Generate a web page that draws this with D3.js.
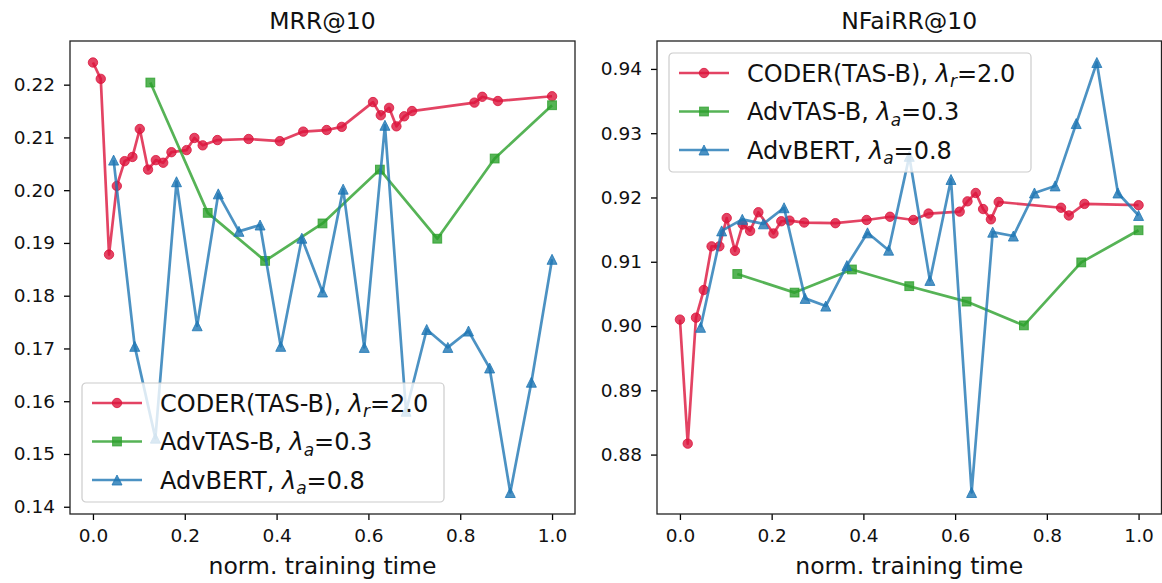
<!DOCTYPE html>
<html>
<head>
<meta charset="utf-8">
<script src="https://cdn.jsdelivr.net/npm/d3@7"></script>
<style>
  html, body { margin: 0; padding: 0; background: #fff; }
  svg { display: block; font-family: "DejaVu Sans", sans-serif; }
</style>
</head>
<body>
<svg id="chart" width="1162" height="583"></svg>
<script>
// Normalised training time at each evaluation checkpoint
const timeCoder = [0, 0.017, 0.035, 0.052, 0.069, 0.086, 0.102, 0.12, 0.137, 0.153,
  0.171, 0.204, 0.221, 0.239, 0.271, 0.339, 0.407, 0.458, 0.509, 0.542,
  0.61, 0.627, 0.645, 0.661, 0.678, 0.695, 0.831, 0.848, 0.882, 1.0];
const timeAdvTas = [0.125, 0.25, 0.375, 0.5, 0.625, 0.75, 0.875, 1.0];
const timeAdvBert = [0.045, 0.091, 0.136, 0.182, 0.227, 0.273, 0.318, 0.364, 0.409, 0.455,
  0.5, 0.545, 0.591, 0.636, 0.682, 0.727, 0.773, 0.818, 0.864, 0.909, 0.955, 1.0];

// MRR@10
const mrrCoder = [0.2242, 0.2211, 0.1878, 0.2008, 0.2055, 0.2063, 0.2116, 0.2039, 0.2057, 0.2052,
  0.2072, 0.2076, 0.2099, 0.2085, 0.2095, 0.2097, 0.2093, 0.2111, 0.2114, 0.2120,
  0.2167, 0.2142, 0.2156, 0.2121, 0.2140, 0.2150, 0.2166, 0.2177, 0.2169, 0.2178];
const mrrAdvTas = [0.2204, 0.1957, 0.1866, 0.1937, 0.2039, 0.1908, 0.2060, 0.2161];
const mrrAdvBert = [0.2057, 0.1704, 0.1530, 0.2016, 0.1743, 0.1993, 0.1922, 0.1934, 0.1704, 0.1909,
  0.1807, 0.2002, 0.1702, 0.2123, 0.1581, 0.1736, 0.1702, 0.1733, 0.1663, 0.1427, 0.1636, 0.1869];

// NFaiRR@10
const nfairrCoder = [0.9010, 0.8817, 0.9013, 0.9056, 0.9124, 0.9124, 0.9168, 0.9117, 0.9158, 0.9148,
  0.9177, 0.9144, 0.9163, 0.9164, 0.9161, 0.9160, 0.9165, 0.9170, 0.9165, 0.9175,
  0.9178, 0.9194, 0.9207, 0.9182, 0.9166, 0.9193, 0.9184, 0.9172, 0.9190, 0.9188];
const nfairrAdvTas = [0.9081, 0.9052, 0.9088, 0.9062, 0.9038, 0.9001, 0.9099, 0.9149];
const nfairrAdvBert = [0.8998, 0.9148, 0.9166, 0.9159, 0.9184, 0.9043, 0.9031, 0.9094, 0.9145, 0.9118,
  0.9264, 0.9071, 0.9228, 0.8741, 0.9146, 0.9140, 0.9207, 0.9218, 0.9315, 0.9410, 0.9207, 0.9172];

const xTicks = [0, 0.2, 0.4, 0.6, 0.8, 1.0];
const mrrTicks = [0.14, 0.15, 0.16, 0.17, 0.18, 0.19, 0.20, 0.21, 0.22];
const nfairrTicks = [0.88, 0.89, 0.90, 0.91, 0.92, 0.93, 0.94];

const seriesStyle = [
  { name: "CODER(TAS-B), ", sym: "r", val: "=2.0", color: "crimson", marker: "circle" },
  { name: "AdvTAS-B, ", sym: "a", val: "=0.3", color: "#2ca02c", marker: "square" },
  { name: "AdvBERT, ", sym: "a", val: "=0.8", color: "#1f77b4", marker: "triangle" }
];

const panels = [
  { title: "MRR@10", left: 70, right: 575, ticks: mrrTicks, legendPos: "lower",
    series: [[timeCoder, mrrCoder], [timeAdvTas, mrrAdvTas], [timeAdvBert, mrrAdvBert]] },
  { title: "NFaiRR@10", left: 657, right: 1161.5, ticks: nfairrTicks, legendPos: "upper",
    series: [[timeCoder, nfairrCoder], [timeAdvTas, nfairrAdvTas], [timeAdvBert, nfairrAdvBert]] }
];

const plotTop = 41, plotBottom = 514;
const svg = d3.select("#chart");
const ALPHA = 0.8;

function drawMarker(g, kind, x, y, color) {
  if (kind === "circle") {
    g.append("circle").attr("cx", x).attr("cy", y).attr("r", 4.7)
      .attr("fill", color).attr("fill-opacity", ALPHA)
      .attr("stroke", color).attr("stroke-opacity", ALPHA).attr("stroke-width", 1);
  } else if (kind === "square") {
    const s = 8.8;
    g.append("rect").attr("x", x - s / 2).attr("y", y - s / 2).attr("width", s).attr("height", s)
      .attr("fill", color).attr("fill-opacity", ALPHA)
      .attr("stroke", color).attr("stroke-opacity", ALPHA).attr("stroke-width", 1);
  } else {
    const h = 5;
    g.append("path").attr("d", `M${x},${y - h}L${x - h},${y + h}L${x + h},${y + h}Z`)
      .attr("fill", color).attr("fill-opacity", ALPHA)
      .attr("stroke", color).attr("stroke-opacity", ALPHA).attr("stroke-width", 1)
      .attr("stroke-linejoin", "miter");
  }
}

panels.forEach(p => {
  const allY = p.series.flatMap(s => s[1]);
  const [ymin, ymax] = d3.extent(allY);
  const pad = (ymax - ymin) * 0.05;
  const x = d3.scaleLinear().domain([-0.05, 1.05]).range([p.left, p.right]);
  const y = d3.scaleLinear().domain([ymin - pad, ymax + pad]).range([plotBottom, plotTop]);

  const g = svg.append("g");

  // data series
  p.series.forEach((s, i) => {
    const st = seriesStyle[i];
    const pts = s[0].map((t, j) => [t, s[1][j]]);
    const line = d3.line().x(d => x(d[0])).y(d => y(d[1]));
    const sg = g.append("g");
    sg.append("path").datum(pts).attr("d", line)
      .attr("fill", "none").attr("stroke", st.color).attr("stroke-opacity", ALPHA)
      .attr("stroke-width", 2.7).attr("stroke-linejoin", "round");
    pts.forEach(d => drawMarker(sg, st.marker, x(d[0]), y(d[1]), st.color));
  });

  // axes
  const xAxis = d3.axisBottom(x).tickValues(xTicks).tickFormat(d3.format(".1f"))
    .tickSize(6).tickPadding(8);
  const yAxis = d3.axisLeft(y).tickValues(p.ticks).tickFormat(d3.format(".2f"))
    .tickSize(6).tickPadding(9);

  const gx = g.append("g").attr("transform", `translate(0,${plotBottom})`).call(xAxis);
  const gy = g.append("g").attr("transform", `translate(${p.left},0)`).call(yAxis);
  [gx, gy].forEach(a => {
    a.select(".domain").remove();
    a.selectAll(".tick line").attr("stroke", "#000").attr("stroke-width", 1.3);
    a.selectAll(".tick text").attr("fill", "#111").style("font-size", "18.5px")
      .style("font-family", "DejaVu Sans, sans-serif");
  });
  gx.selectAll(".tick text").attr("dy", "0.76em");

  // frame
  g.append("rect").attr("x", p.left).attr("y", plotTop)
    .attr("width", p.right - p.left).attr("height", plotBottom - plotTop)
    .attr("fill", "none").attr("stroke", "#222").attr("stroke-width", 1.3);

  // title and axis label
  g.append("text").attr("x", (p.left + p.right) / 2).attr("y", 29)
    .attr("text-anchor", "middle").style("font-size", "23.5px").attr("fill", "#111")
    .text(p.title);
  g.append("text").attr("x", (p.left + p.right) / 2).attr("y", 574)
    .attr("text-anchor", "middle").style("font-size", "23.5px").attr("fill", "#111")
    .text("norm. training time");

  // legend
  const lw = 362, lh = 119;
  const lx = p.left + 12;
  const ly = p.legendPos === "upper" ? plotTop + 12 : plotBottom - 12 - lh;
  const lg = g.append("g").attr("transform", `translate(${lx},${ly})`);
  lg.append("rect").attr("width", lw).attr("height", lh).attr("rx", 4)
    .attr("fill", "#fff").attr("fill-opacity", 0.8)
    .attr("stroke", "#ccc").attr("stroke-width", 1.2);
  seriesStyle.forEach((st, i) => {
    const cy = 20 + i * 38.5;
    lg.append("line").attr("x1", 10).attr("x2", 60).attr("y1", cy).attr("y2", cy)
      .attr("stroke", st.color).attr("stroke-opacity", ALPHA).attr("stroke-width", 2.7);
    drawMarker(lg, st.marker, 35, cy, st.color);
    const t = lg.append("text").attr("x", 78).attr("y", cy + 8.5)
      .style("font-size", "24px").attr("fill", "#111");
    t.append("tspan").text(st.name);
    t.append("tspan").style("font-style", "italic").text("λ");
    t.append("tspan").style("font-style", "italic").style("font-size", "17px")
      .attr("dy", 5.5).text(st.sym);
    t.append("tspan").attr("dy", -5.5).text(st.val);
  });
});
</script>
</body>
</html>
